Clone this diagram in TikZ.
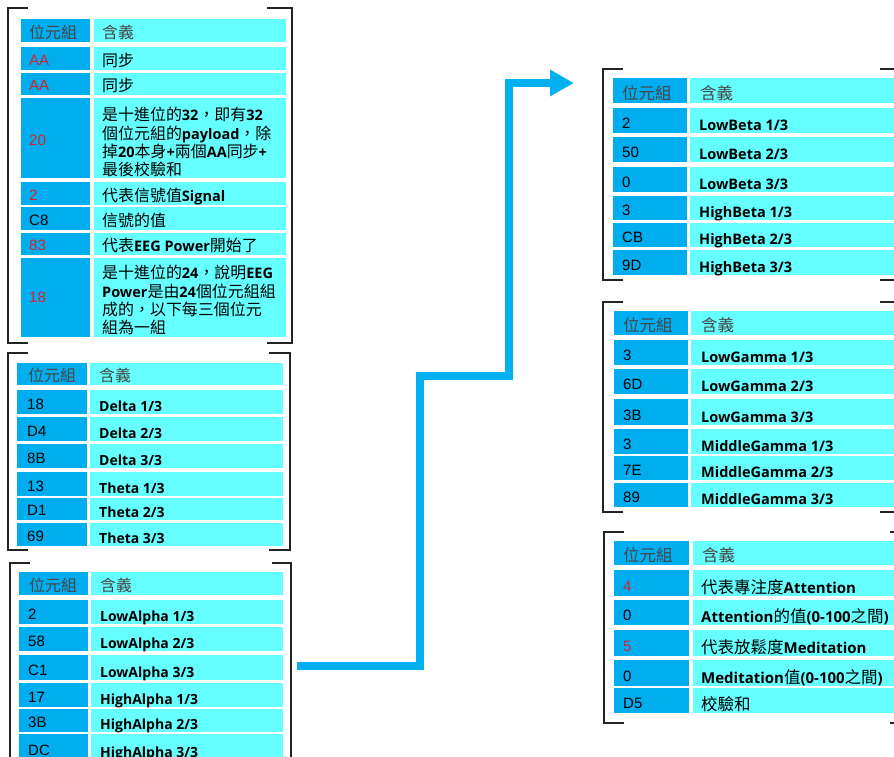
\documentclass[tikz,border=0pt]{standalone}
\usepackage{fontspec}
\setmainfont{Liberation Sans}
\newfontfamily\zhfont{Noto Sans CJK TC}[Scale=1.1]
\newfontfamily\enfont{Open Sans}
\newcommand{\zh}[1]{{\zhfont\mdseries #1}}
\usetikzlibrary{arrows.meta}

\definecolor{bytecol}{RGB}{0,174,239}
\definecolor{meancol}{RGB}{102,255,255}
\definecolor{hexred}{RGB}{210,35,45}
\definecolor{headgrey}{RGB}{70,70,70}
\definecolor{bracketgrey}{RGB}{35,35,35}
\definecolor{arrowcol}{RGB}{0,176,240}

\tikzset{
  bracket/.style={line width=2.5pt, draw=bracketgrey, line join=miter},
  bytefill/.style={fill=bytecol},
  meanfill/.style={fill=meancol},
  bytetext/.style={anchor=base west, inner sep=0pt, font=\fontsize{15}{18}\selectfont},
  meantext/.style={anchor=base west, inner sep=0pt, font=\fontsize{14.5}{18.3}\selectfont\enfont\bfseries},
  headtext/.style={anchor=base west, inner sep=0pt, text=headgrey, font=\fontsize{14.5}{18}\selectfont\zhfont},
  flowarrow/.style={line width=7.5pt, draw=arrowcol, line join=miter, -{Triangle[length=24pt, width=25pt]}}
}

\begin{document}
\begin{tikzpicture}[x=1pt, y=-1pt]
    \useasboundingbox (0,0) rectangle (894,756);

    % Top-left table: sync, payload length, signal, EEG power start
    \draw[bracket] (28,8) -| (8,343) -- (28,343);
    \draw[bracket] (267,8) -| (292,343) -- (267,343);
    \fill[bytefill] (21,19) rectangle (90,42);
    \fill[meanfill] (94,19) rectangle (286,42);
    \node[headtext] (t1bh) at (29,38) {位元組};
    \node[headtext] (t1mh) at (102,38) {含義};
    \foreach \ytop/\ybot/\bcol/\byte/\mean [count=\i] in {
        47/70/hexred/AA/{\zh{同步}},
        73/95/hexred/AA/{\zh{同步}},
        182/205/hexred/2/{\zh{代表信號值}Signal},
        207/230/black/C8/{\zh{信號的值}},
        233/255/hexred/83/{\zh{代表}EEG Power\zh{開始了}}} {
        \fill[bytefill] (21,\ytop) rectangle (90,\ybot);
        \fill[meanfill] (94,\ytop) rectangle (286,\ybot);
        \node[bytetext, text=\bcol] (t1b\i) at (29,\ybot-5) {\byte};
        \node[meantext] (t1m\i) at (102,\ybot-4) {\mean};
    }

    % Tall rows
    \fill[bytefill] (21,98) rectangle (90,178);
    \fill[meanfill] (94,98) rectangle (286,178);
    \node[bytetext, text=hexred] (t1blen) at (29,145) {20};
    \node[meantext, anchor=north west, align=left] (t1mlen) at (102,107)
        {\zh{是十進位的}32\zh{，即有}32\\ \zh{個位元組的}payload\zh{，除}\\
         \zh{掉}20\zh{本身}+\zh{兩個}AA\zh{同步}+\\ \zh{最後校驗和}};
    \fill[bytefill] (21,258) rectangle (90,337);
    \fill[meanfill] (94,258) rectangle (286,337);
    \node[bytetext, text=hexred] (t1beeg) at (29,302) {18};
    \node[meantext, anchor=north west, align=left] (t1meeg) at (102,265)
        {\zh{是十進位的}24\zh{，說明}EEG\\ Power\zh{是由}24\zh{個位元組組}\\
         \zh{成的，以下每三個位元}\\ \zh{組為一組}};

    % Delta and Theta
    \draw[bracket] (28,353) -| (8,550) -- (28,550);
    \draw[bracket] (269,353) -| (290,550) -- (269,550);
    \fill[bytefill] (17,363) rectangle (87,385);
    \fill[meanfill] (90,363) rectangle (283,385);
    \node[headtext] (t2bh) at (28,381) {位元組};
    \node[headtext] (t2mh) at (99,381) {含義};
    \foreach \ytop/\ybot/\byte/\mean [count=\i] in {
        390/414/18/{Delta 1/3}, 417/441/D4/{Delta 2/3}, 444/468/8B/{Delta 3/3},
        472/496/13/{Theta 1/3}, 498/520/D1/{Theta 2/3}, 523/546/69/{Theta 3/3}} {
        \fill[bytefill] (17,\ytop) rectangle (87,\ybot);
        \fill[meanfill] (90,\ytop) rectangle (283,\ybot);
        \node[bytetext] (t2b\i) at (27,\ybot-5) {\byte};
        \node[meantext, font=\fontsize{14}{18}\selectfont\enfont\bfseries] (t2m\i) at (99,\ybot-3) {\mean};
    }

    % Alpha
    \draw[bracket] (30,563) -| (10,770);
    \draw[bracket] (272,563) -| (291,770);
    \fill[bytefill] (19,572) rectangle (88,595);
    \fill[meanfill] (91,572) rectangle (283,595);
    \node[headtext] (t3bh) at (29,591) {位元組};
    \node[headtext] (t3mh) at (100,591) {含義};
    \foreach \ytop/\ybot/\byte/\mean [count=\i] in {
        600/624/2/{LowAlpha 1/3}, 627/651/58/{LowAlpha 2/3}, 655/680/C1/{LowAlpha 3/3},
        683/707/17/{HighAlpha 1/3}, 709/732/3B/{HighAlpha 2/3}, 734/760/DC/{HighAlpha 3/3}} {
        \fill[bytefill] (19,\ytop) rectangle (88,\ybot);
        \fill[meanfill] (91,\ytop) rectangle (283,\ybot);
        \node[bytetext] (t3b\i) at (28,\ybot-5) {\byte};
        \node[meantext, font=\fontsize{14}{18}\selectfont\enfont\bfseries] (t3m\i) at (100,\ybot-3) {\mean};
    }

    % Beta
    \draw[bracket] (623,69) -| (603,280) -- (623,280);
    \draw[bracket] (880,69) -| (899,280) -- (880,280);
    \fill[bytefill] (613,78) rectangle (687,103);
    \fill[meanfill] (690,78) rectangle (900,103);
    \node[headtext, font=\fontsize{15}{18}\selectfont\zhfont] (t4bh) at (622,99) {位元組};
    \node[headtext, font=\fontsize{15}{18}\selectfont\zhfont] (t4mh) at (700,99) {含義};
    \foreach \ytop/\ybot/\byte/\mean [count=\i] in {
        108/133/2/{LowBeta 1/3}, 137/162/50/{LowBeta 2/3}, 167/192/0/{LowBeta 3/3},
        196/220/3/{HighBeta 1/3}, 223/247/CB/{HighBeta 2/3}, 250/275/9D/{HighBeta 3/3}} {
        \fill[bytefill] (613,\ytop) rectangle (687,\ybot);
        \fill[meanfill] (690,\ytop) rectangle (900,\ybot);
        \node[bytetext] (t4b\i) at (622,\ybot-5) {\byte};
        \node[meantext] (t4m\i) at (699,\ybot-3) {\mean};
    }

    % Gamma
    \draw[bracket] (623,302) -| (603,512) -- (623,512);
    \draw[bracket] (880,302) -| (899,512) -- (880,512);
    \fill[bytefill] (614,311) rectangle (688,335);
    \fill[meanfill] (691,311) rectangle (900,335);
    \node[headtext, font=\fontsize{15}{18}\selectfont\zhfont] (t5bh) at (623,331) {位元組};
    \node[headtext, font=\fontsize{15}{18}\selectfont\zhfont] (t5mh) at (701,331) {含義};
    \foreach \ytop/\ybot/\byte/\mean [count=\i] in {
        340/365/3/{LowGamma 1/3}, 369/394/6D/{LowGamma 2/3}, 399/425/3B/{LowGamma 3/3},
        429/454/3/{MiddleGamma 1/3}, 456/480/7E/{MiddleGamma 2/3}, 483/507/89/{MiddleGamma 3/3}} {
        \fill[bytefill] (614,\ytop) rectangle (688,\ybot);
        \fill[meanfill] (691,\ytop) rectangle (900,\ybot);
        \node[bytetext] (t5b\i) at (623,\ybot-5) {\byte};
        \node[meantext] (t5m\i) at (701,\ybot-3) {\mean};
    }

    % Attention, meditation, checksum
    \draw[bracket] (624,532) -| (604,723) -- (624,723);
    \draw[bracket] (890,532) -| (899,723) -- (890,723);
    \fill[bytefill] (614,541) rectangle (689,565);
    \fill[meanfill] (693,541) rectangle (900,565);
    \node[headtext, font=\fontsize{15}{18}\selectfont\zhfont] (t6bh) at (623,561) {位元組};
    \node[headtext, font=\fontsize{15}{18}\selectfont\zhfont] (t6mh) at (702,561) {含義};
    \foreach \ytop/\ybot/\bcol/\byte/\mean [count=\i] in {
        570/596/hexred/4/{\zh{代表專注度}Attention},
        600/625/black/0/{Attention\zh{的值}(0-100\zh{之間})},
        630/656/hexred/5/{\zh{代表放鬆度}Meditation},
        660/686/black/0/{Meditation\zh{值}(0-100\zh{之間})},
        688/713/black/D5/{\zh{校驗和}}} {
        \fill[bytefill] (614,\ytop) rectangle (689,\ybot);
        \fill[meanfill] (693,\ytop) rectangle (900,\ybot);
        \node[bytetext, text=\bcol] (t6b\i) at (623,\ybot-5) {\byte};
        \node[meantext, font=\fontsize{15}{18}\selectfont\enfont\bfseries] (t6m\i) at (701,\ybot-3) {\mean};
    }

    % Arrow from the alpha table over to the beta table
    \coordinate (arrowstart) at (297,666);
    \coordinate (arrowend) at (574,83);
    \draw[flowarrow] (arrowstart) -| (420,376) -| (509,83) -- (arrowend);
\end{tikzpicture}
\end{document}
